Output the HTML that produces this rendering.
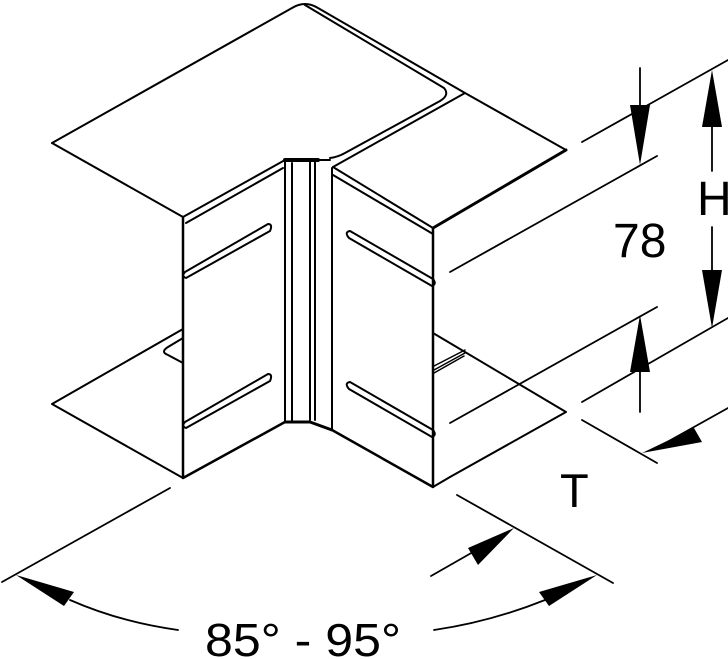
<!DOCTYPE html>
<html><head><meta charset="utf-8"><style>
html,body{margin:0;padding:0;background:#fff;}
svg{display:block;}
text{font-family:"Liberation Sans",sans-serif;fill:#000;}
</style></head><body>
<svg width="728" height="659" viewBox="0 0 728 659" xmlns="http://www.w3.org/2000/svg">
<g fill="none" stroke="#000" stroke-width="2" stroke-linejoin="round" stroke-linecap="round">
<path d="M52,143 L292,8 Q305,0 318,8 L465,93"/>
<path d="M305,5 L444,88 Q450,95 440,101 L345,153 Q338,157 330,158"/>
<path d="M52,143 L183,217"/>
<path d="M183,217 L285,160 M186,223 L283,168"/>
<path d="M465,93 L566,150"/>
<path d="M465,93 L333,167"/>
<path d="M433,228 L566,150" stroke-width="3"/>
<path d="M333,167 L433,228 M333,175 L433,234"/>
<path d="M285,160 L330,160 M285,160 L285,422 M292,163 L292,422 M310,162 L310,420 M315,162 L315,420 M332,168 L332,430"/>
<path d="M285,422 L310,422 L332,430" stroke-width="3"/>
<path d="M285,160 L318,160" stroke-width="4"/>
<path d="M183,217 L183,478 L285,422" stroke-width="2.5"/>
<path d="M433,228 L433,487 L332,430" stroke-width="2.5"/>
<path d="M185,272 L268,224 Q273,224 270,231 L186,278 Q181,276 185,272"/>
<path d="M185,422 L268,374 Q273,374 270,381 L186,428 Q181,426 185,422"/>
<path d="M350,231 L433,279 Q437,284 432,286 L349,238 Q344,232 350,231"/>
<path d="M350,382 L433,430 Q437,435 432,437 L349,389 Q344,383 350,382"/>
<path d="M52,404 L183,329 M52,404 L183,478"/>
<path d="M183,338 L168,347 Q160,352 168,355 L183,363"/>
<path d="M433,333 L566,412 L450,477"/>
<g stroke-width="1.5">
<path d="M434,366 L465,350 M434,370 L465,353 M434,373 L464,356"/>
</g>
<path d="M450,477 L433,487"/>
<g stroke-width="1.8">
<path d="M582,142 L728,60"/>
<path d="M450,272 L657,156"/>
<path d="M450,423 L657,307"/>
<path d="M582,402 L728,318"/>
<path d="M582,420 L657,463"/>
<path d="M728,408 L660,446"/>
<path d="M640,68 L640,110 M640,370 L640,412"/>
<path d="M712,127 L712,171 M712,227 L712,270"/>
<path d="M170,488 L2,582"/>
<path d="M457,495 L613,583"/>
<path d="M70,600 Q120,622 178,630"/>
<path d="M545,600 Q490,622 434,630"/>
<path d="M431,576 L480,548"/>
</g>
</g>
<g fill="#000">
<polygon points="630,105 650,105 640,165"/>
<polygon points="630,372 650,372 640,315"/>
<polygon points="702,127 722,127 712,70"/>
<polygon points="702,270 722,270 712,328"/>
<polygon points="642,453 694,428 702,442"/>
<polygon points="16,575 74,592 64,606"/>
<polygon points="597,575 539,592 549,606"/>
<polygon points="514,528 468,548 478,565"/>
</g>
<text x="697" y="215" font-size="48">H</text>
<text x="613" y="257" font-size="48">78</text>
<text x="560" y="507" font-size="47">T</text>
<text x="205" y="656" font-size="46" textLength="196" lengthAdjust="spacingAndGlyphs">85° - 95°</text>
</svg>
</body></html>
